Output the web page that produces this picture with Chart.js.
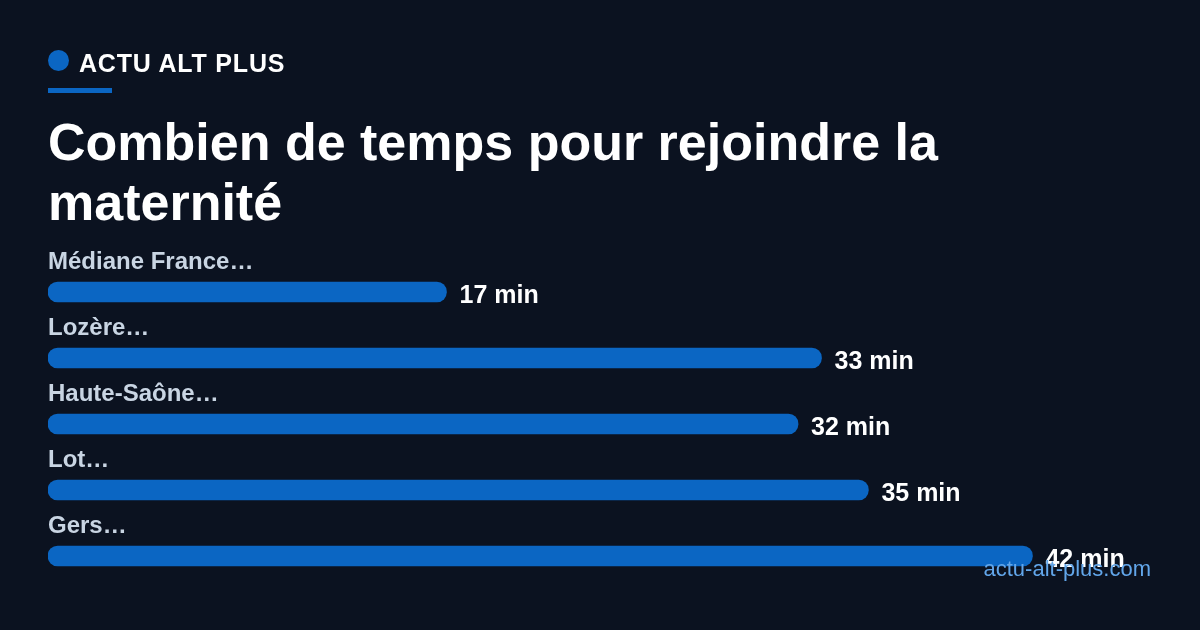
<!DOCTYPE html>
<html lang="fr">
<head>
<meta charset="utf-8">
<title>Combien de temps pour rejoindre la maternité</title>
<script src="https://cdn.jsdelivr.net/npm/chart.js@4/dist/chart.umd.min.js"></script>
<style>
  html, body { margin: 0; padding: 0; }
  body {
    width: 1200px; height: 630px; overflow: hidden;
    background: #0b1220;
    font-family: "Liberation Sans", Arial, Helvetica, sans-serif;
    position: relative;
  }
  #chart { position: absolute; left: 0; top: 0; }
  .dot {
    position: absolute; left: 48px; top: 50px;
    width: 21px; height: 21px; border-radius: 50%;
    background: #0b66c3;
  }
  .brand {
    position: absolute; left: 79px; top: 50.5px;
    font-size: 25px; line-height: 25px; font-weight: bold;
    letter-spacing: 0.8px;
    color: #ffffff; white-space: nowrap;
  }
  .rule {
    position: absolute; left: 48px; top: 88px;
    width: 64px; height: 5px; background: #0b66c3;
  }
  h1 {
    position: absolute; left: 48px; top: 112px; margin: 0;
    width: 1104px;
    font-size: 52px; line-height: 60px; font-weight: bold;
    color: #ffffff;
  }
  .source {
    position: absolute; right: 49px; top: 558px;
    font-size: 22px; line-height: 22px;
    color: #62a6ea; white-space: nowrap;
  }
</style>
</head>
<body>
<canvas id="chart" width="1200" height="630"></canvas>
<div class="dot"></div>
<div class="brand">ACTU ALT PLUS</div>
<div class="rule"></div>
<h1>Combien de temps pour rejoindre la maternité</h1>
<div class="source">actu-alt-plus.com</div>

<script>
// données (minutes)
const categories = ['Médiane France…', 'Lozère…', 'Haute-Saône…', 'Lot…', 'Gers…'];
const minutes = [17, 33, 32, 35, 42];
const unit = 'min';

// libellés au-dessus des barres + valeurs au bout
const barLabels = {
    id: 'barLabels',
    afterDatasetsDraw(chart) {
        const ctx = chart.ctx;
        const meta = chart.getDatasetMeta(0);
        const left = chart.chartArea.left;
        ctx.save();
        ctx.textBaseline = 'alphabetic';
        meta.data.forEach((bar, i) => {
            ctx.font = 'bold 24px "Liberation Sans", Arial, sans-serif';
            ctx.fillStyle = '#c9d5e3';
            ctx.textAlign = 'left';
            ctx.fillText(chart.data.labels[i], left, bar.y - 23);

            ctx.font = 'bold 25px "Liberation Sans", Arial, sans-serif';
            ctx.fillStyle = '#ffffff';
            ctx.fillText(chart.data.datasets[0].data[i] + ' ' + unit, bar.x + 13, bar.y + 11);
        });
        ctx.restore();
    }
};

const config = {
    type: 'bar',
    data: {
        labels: categories,
        datasets: [{
            data: minutes,
            backgroundColor: '#0b66c3',
            borderWidth: 0,
            borderRadius: 10,
            borderSkipped: false,
            barThickness: 20,
        }]
    },
    options: {
        indexAxis: 'y',
        responsive: false,
        animation: false,
        devicePixelRatio: 1,
        layout: {
            padding: { left: 48, right: 48, top: 259, bottom: 41 }
        },
        scales: {
            x: { display: false, min: 0, max: 47.1 },
            y: { display: false }
        },
        plugins: {
            legend: { display: false },
            tooltip: { enabled: false },
        }
    },
    plugins: [barLabels]
};

const myChart = new Chart(document.getElementById('chart'), config);
</script>
</body>
</html>
